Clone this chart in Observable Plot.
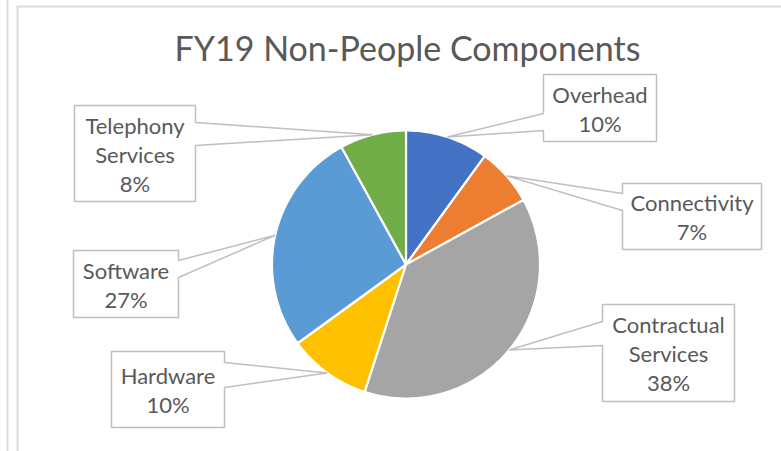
<!DOCTYPE html>
<html>
<head>
<meta charset="utf-8">
<script src="https://cdn.jsdelivr.net/npm/d3@7"></script>
<script src="https://cdn.jsdelivr.net/npm/@observablehq/plot@0.6"></script>
<style>
  html, body { margin: 0; padding: 0; background: #ffffff; }
  #chart svg { display: block; }
</style>
</head>
<body>
<div id="chart"></div>
<script>
// ---- Data ----
const title = "FY19 Non-People Components";
const categories = ["Overhead", "Connectivity", "Contractual Services", "Hardware", "Software", "Telephony Services"];
const values = [10, 7, 38, 10, 27, 8];
const colors = ["#4472C4", "#ED7D31", "#A5A5A5", "#FFC000", "#5B9BD5", "#70AD47"];

// ---- Layout (pixel space) ----
const W = 781, H = 451;
const CX = 405.5, CY = 264, R = 134;
const FONT = "Lato, 'Open Sans', sans-serif";
const TEXT_COLOR = "#595959";
const boxes = {
  "Overhead":             {x0: 543, x1: 656, y0: 74,  y1: 141, side: "left",  w0: 113, w1: 130},
  "Connectivity":         {x0: 622, x1: 761, y0: 183, y1: 249, side: "left",  w0: 193, w1: 210},
  "Contractual Services": {x0: 602, x1: 734, y0: 304, y1: 401, side: "left",  w0: 321, w1: 345},
  "Hardware":             {x0: 111, x1: 224, y0: 351, y1: 427, side: "right", w0: 362, w1: 387},
  "Software":             {x0: 73,  x1: 178, y0: 250, y1: 317, side: "right", w0: 260, w1: 277},
  "Telephony Services":   {x0: 74,  x1: 195, y0: 105, y1: 201, side: "right", w0: 122, w1: 145}
};

// ---- Geometry from data ----
const total = d3.sum(values);
const pie = d3.pie().sort(null).value(d => d.value)(categories.map((name, i) => ({name, value: values[i]})));
const pt = (a, r) => [CX + r * Math.sin(a), CY - r * Math.cos(a)];

const slicePts = [];
pie.forEach(s => {
  const name = s.data.name;
  const steps = Math.max(2, Math.ceil((s.endAngle - s.startAngle) / (Math.PI / 180)));
  slicePts.push({name, x: CX, y: CY});
  for (let k = 0; k <= steps; k++) {
    const a = s.startAngle + (s.endAngle - s.startAngle) * k / steps;
    const [x, y] = pt(a, R);
    slicePts.push({name, x, y});
  }
  slicePts.push({name, x: CX, y: CY});
});

const calloutPts = [];
const labels = [];
pie.forEach(s => {
  const name = s.data.name;
  const b = boxes[name];
  const mid = (s.startAngle + s.endAngle) / 2;
  const [tx, ty] = pt(mid, R);
  const p = [];
  p.push([b.x0, b.y0], [b.x1, b.y0]);
  if (b.side === "right") p.push([b.x1, b.w0], [tx, ty], [b.x1, b.w1]);
  p.push([b.x1, b.y1], [b.x0, b.y1]);
  if (b.side === "left") p.push([b.x0, b.w1], [tx, ty], [b.x0, b.w0]);
  p.push([b.x0, b.y0]);
  p.forEach(([x, y]) => calloutPts.push({name, x, y}));
  const pct = Math.round(s.data.value / total * 100) + "%";
  labels.push({
    x: (b.x0 + b.x1) / 2,
    y: (b.y0 + b.y1) / 2,
    text: name.split(" ").join("\n") + "\n" + pct
  });
});

const chart = Plot.plot({
  width: W,
  height: H,
  margin: 0,
  x: {domain: [0, W], range: [0, W], axis: null},
  y: {domain: [0, H], range: [0, H], axis: null},
  color: {domain: categories, range: colors},
  style: {background: "#ffffff", fontFamily: FONT},
  marks: [
    // chart frame lines
    Plot.ruleX([7], {y1: 0, y2: H, stroke: "#dcdcdc", strokeWidth: 2}),
    Plot.ruleX([17], {y1: 6, y2: H, stroke: "#dcdcdc", strokeWidth: 2}),
    Plot.ruleY([6], {x1: 17, x2: W, stroke: "#dcdcdc", strokeWidth: 2}),
    // pie slices
    Plot.line(slicePts, {x: "x", y: "y", z: "name", fill: "name", stroke: "#ffffff", strokeWidth: 2.2, strokeLinejoin: "round", curve: "linear"}),
    // callouts
    Plot.line(calloutPts, {x: "x", y: "y", z: "name", fill: "#ffffff", stroke: "#bfbfbf", strokeWidth: 1.5, strokeLinejoin: "miter", curve: "linear"}),
    // callout texts
    Plot.text(labels, {x: "x", y: "y", text: "text", fontSize: 22, lineHeight: 1.31, fill: TEXT_COLOR, fontFamily: FONT, textAnchor: "middle", lineAnchor: "middle"}),
    // title
    Plot.text([title], {x: () => 407, y: () => 50, text: d => d, fontSize: 34, fill: TEXT_COLOR, fontFamily: FONT, textAnchor: "middle", lineAnchor: "middle"})
  ]
});
document.getElementById("chart").appendChild(chart);
</script>
</body>
</html>
